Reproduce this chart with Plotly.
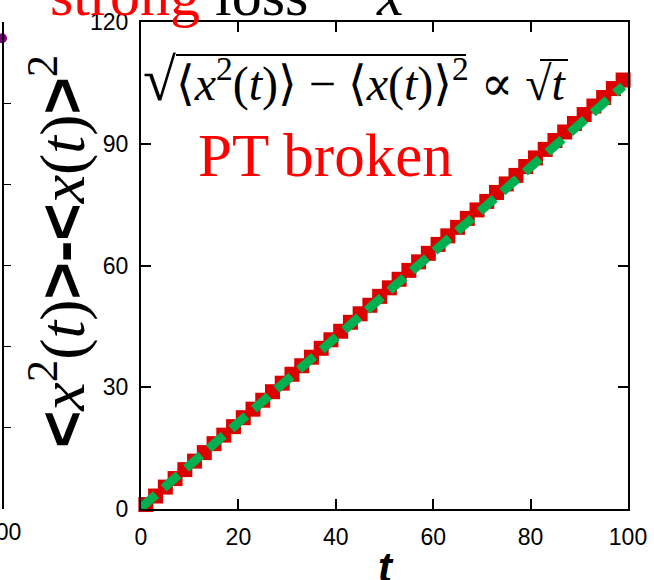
import plotly.graph_objects as go

# --- data -------------------------------------------------------------
# time grid of the simulation (every second step)
t_vals = [1, 3, 5, 7, 9, 11, 13, 15, 17, 19,
          21, 23, 25, 27, 29, 31, 33, 35, 37, 39,
          41, 43, 45, 47, 49, 51, 53, 55, 57, 59,
          61, 63, 65, 67, 69, 71, 73, 75, 77, 79,
          81, 83, 85, 87, 89, 91, 93, 95, 97, 99]

# variance <x^2(t)> - <x(t)>^2
variance = [1.1, 3.2, 5.4, 7.5, 9.7, 11.8, 13.9, 16.1, 18.2, 20.3,
            22.5, 24.6, 26.8, 28.9, 31.0, 33.2, 35.3, 37.4, 39.6, 41.7,
            43.8, 46.0, 48.1, 50.2, 52.4, 54.5, 56.6, 58.8, 60.9, 63.0,
            65.2, 67.3, 69.4, 71.6, 73.7, 75.8, 78.0, 80.1, 82.2, 84.4,
            86.5, 88.6, 90.8, 92.9, 95.0, 97.2, 99.3, 101.4, 103.6, 105.7]

# linear fit of the variance
fit_t = [0, 99]
fit_y = [0.3, 104.2]

x_ticks = [0, 20, 40, 60, 80, 100]
y_ticks = [0, 30, 60, 90, 120]

# edge of the neighbouring panel
side_x = [100]
side_y = [5.8]
side_ticks = [1, 2, 3, 4, 5]

W, H = 654, 580
L_PX, R_PX = 141, 628
TOP_PX, BOT_PX = 22, 509
PH = BOT_PX - TOP_PX


def px_x(p):
    return p / W


def px_y(p):
    return (BOT_PX - p) / PH


RED = "#dd0000"
GREEN = "#00b050"
SERIF = "Liberation Serif, DejaVu Serif, serif"
SANS = "Liberation Sans, Arial, sans-serif"

fig = go.Figure()

fig.add_trace(go.Scatter(
    x=t_vals, y=variance, mode="lines+markers",
    line=dict(color=RED, width=3),
    marker=dict(symbol="square", size=15, color=RED, line=dict(width=0)),
    cliponaxis=False, showlegend=False,
))
fig.add_trace(go.Scatter(
    x=fit_t, y=fit_y, mode="lines",
    line=dict(color=GREEN, width=9, dash="20px,10px"),
    showlegend=False,
))

# neighbouring panel fragment
fig.add_trace(go.Scatter(
    x=side_x, y=side_y, mode="markers", xaxis="x2", yaxis="y2",
    marker=dict(size=10, color="#800080"), cliponaxis=False, showlegend=False,
))

axis_common = dict(
    showline=True, linewidth=2, linecolor="black", mirror="ticks",
    ticks="inside", ticklen=10, tickwidth=1.5, tickcolor="black",
    showgrid=False, zeroline=False, automargin=False,
    tickfont=dict(family=SANS, size=23, color="black"),
)

fig.update_layout(
    width=W, height=H,
    margin=dict(l=0, r=0, t=TOP_PX, b=H - BOT_PX, autoexpand=False),
    paper_bgcolor="white", plot_bgcolor="white",
    xaxis=dict(domain=[L_PX / W, R_PX / W], range=[0, 100], tickvals=x_ticks,
               ticklabelstandoff=6, **axis_common),
    yaxis=dict(range=[0, 120], tickvals=y_ticks, ticklabelstandoff=6,
               **axis_common),
    xaxis2=dict(domain=[0, 2 / W], range=[99.5, 100], anchor="y2",
                showline=False, showticklabels=False, ticks="",
                showgrid=False, zeroline=False, automargin=False),
    yaxis2=dict(domain=[0, 1], range=[0, 6], anchor="x2", side="right",
                tickvals=side_ticks, showline=True, linewidth=2,
                linecolor="black", ticks="outside", ticklen=7,
                tickcolor="black", showticklabels=False,
                showgrid=False, zeroline=False, automargin=False),
)

# y-axis title: bold sans brackets, italic serif symbols
def br(s):
    return f"<span style='font-family:Liberation Sans;font-weight:bold'>{s}</span>"


ytitle = (br("&lt;") + "<i>x</i><sup>2</sup>(<i>t</i>)" + br("&gt;") + br("-")
          + br("&lt;") + "<i>x</i>(<i>t</i>)" + br("&gt;") + "<sup>2</sup>")
fig.add_annotation(
    text=ytitle, textangle=-90, showarrow=False,
    xref="paper", yref="paper", x=px_x(57), y=px_y(252),
    xanchor="center", yanchor="middle",
    font=dict(family=SERIF, size=64, color="black"),
)
# x-axis title
fig.add_annotation(
    text="<b><i>t</i></b>", showarrow=False,
    xref="paper", yref="paper", x=px_x(386), y=px_y(542),
    xanchor="center", yanchor="top",
    font=dict(family=SANS, size=42, color="black"),
)
# "100" tick of the neighbouring panel
fig.add_annotation(
    text="100", showarrow=False, xref="paper", yref="paper",
    x=px_x(2), y=px_y(532), xanchor="center", yanchor="middle",
    font=dict(family=SANS, size=23, color="black"),
)

# formula with a tall radical sign; the radical bars are added as shapes
formula = ("<span style='font-size:60px'>√</span>"
           "⟨<i>x</i><sup>2</sup>(<i>t</i>)⟩ − ⟨<i>x</i>(<i>t</i>)⟩<sup>2</sup>"
           " ∝ √<i>t</i>")
fig.add_annotation(
    text=formula, showarrow=False, xref="paper", yref="paper",
    x=px_x(141), y=px_y(80), xanchor="left", yanchor="middle",
    font=dict(family=SERIF, size=48, color="black"),
)
radical_bars = [(176, 466, 55), (540, 568, 60)]
for x0, x1, yb in radical_bars:
    fig.add_shape(type="line", xref="paper", yref="paper",
                  x0=px_x(x0), x1=px_x(x1), y0=px_y(yb), y1=px_y(yb),
                  line=dict(color="black", width=2))

fig.add_annotation(
    text="PT broken", showarrow=False, xref="paper", yref="paper",
    x=px_x(325), y=px_y(155), xanchor="center", yanchor="middle",
    font=dict(family=SERIF, size=61, color="#ff0000"),
)
# panel heading cut by the page edge
fig.add_annotation(
    text="<span style='color:#ff0000'>strong</span> loss", showarrow=False,
    xref="paper", yref="paper", x=px_x(48), y=px_y(30),
    xanchor="left", yanchor="bottom",
    font=dict(family=SERIF, size=60, color="black"),
)
fig.add_annotation(
    text="<i>x</i>", showarrow=False,
    xref="paper", yref="paper", x=px_x(390), y=px_y(30),
    xanchor="center", yanchor="bottom",
    font=dict(family=SERIF, size=60, color="black"),
)

fig.write_html("out.html")
